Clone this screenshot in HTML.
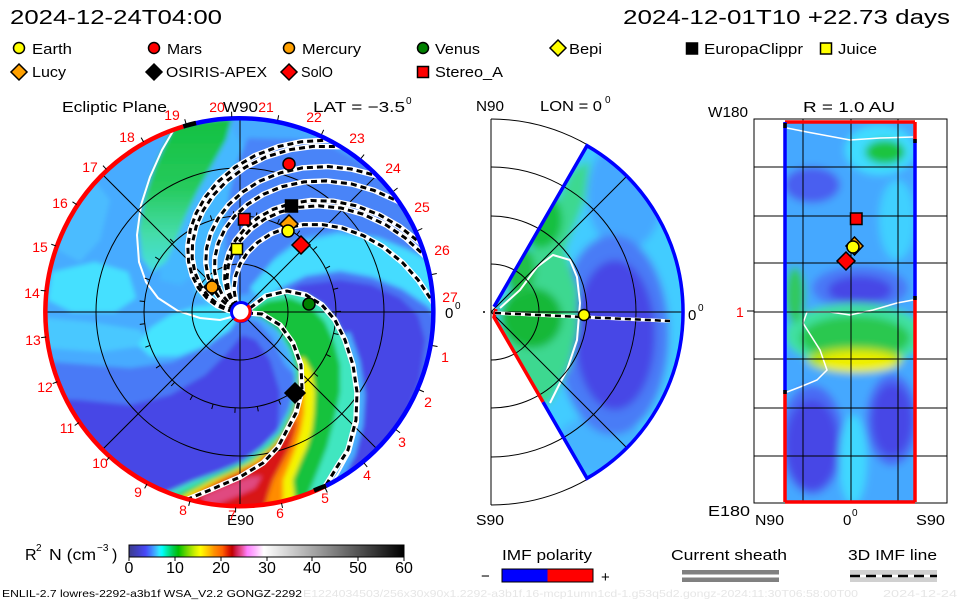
<!DOCTYPE html>
<html><head><meta charset="utf-8"><style>html,body{margin:0;padding:0;background:#fff;overflow:hidden}svg{display:block}</style></head>
<body>
<svg xmlns="http://www.w3.org/2000/svg" xmlns:xlink="http://www.w3.org/1999/xlink" width="960" height="600" viewBox="0 0 960 600" font-family="'Liberation Sans', sans-serif">
<defs>
<clipPath id="cd"><circle cx="240" cy="312" r="193"/></clipPath>
<clipPath id="cw"><path d="M494,306.8 L587,145.7 A192,192 0 0 1 587,478.3 L494,317.2 A6,6 0 0 0 494,306.8 Z"/></clipPath>
<clipPath id="cr"><rect x="785" y="122" width="130" height="380"/></clipPath>
<filter id="bl" x="-10%" y="-10%" width="120%" height="120%"><feGaussianBlur stdDeviation="2.5"/></filter>
<filter id="bl2" x="-10%" y="-10%" width="120%" height="120%"><feGaussianBlur stdDeviation="4"/></filter>
<path id="fl" d="M237.7,306.4 L236.2,300.6 L235.2,288.5 L237.4,276.1 L242.5,264.1 L250.6,253 L261.5,243.3 L275,235.6 L290.6,230.4 L307.9,228.1 L326.6,229 L346,233.3 L367,242.1 L386,254.2 L405.1,271.4 L419.6,289.4 L433,312 L443.4,337.6"/>
<linearGradient id="gg" x1="0" y1="0" x2="0" y2="1">
<stop offset="0" stop-color="#12c040"/><stop offset="0.45" stop-color="#26ca5c"/><stop offset="0.75" stop-color="#44dca8"/><stop offset="1" stop-color="#46e0e0"/>
</linearGradient>
<linearGradient id="cb" x1="0" y1="0" x2="1" y2="0">
<stop offset="0" stop-color="#3c3c8c"/><stop offset="0.03" stop-color="#4040c0"/><stop offset="0.06" stop-color="#4848f8"/><stop offset="0.08" stop-color="#4080ff"/><stop offset="0.095" stop-color="#40b0ff"/><stop offset="0.11" stop-color="#30e8ff"/><stop offset="0.12" stop-color="#00ffff"/><stop offset="0.14" stop-color="#00e8a0"/><stop offset="0.16" stop-color="#00cc50"/><stop offset="0.18" stop-color="#00c000"/><stop offset="0.21" stop-color="#70d800"/><stop offset="0.24" stop-color="#d0f000"/><stop offset="0.26" stop-color="#ffff00"/><stop offset="0.29" stop-color="#ffc000"/><stop offset="0.31" stop-color="#ff9000"/><stop offset="0.34" stop-color="#ff6000"/><stop offset="0.36" stop-color="#e02000"/><stop offset="0.375" stop-color="#c00000"/><stop offset="0.39" stop-color="#d02050"/><stop offset="0.41" stop-color="#e85098"/><stop offset="0.43" stop-color="#ff80ff"/><stop offset="0.46" stop-color="#ffb8ff"/><stop offset="0.49" stop-color="#ffffff"/><stop offset="1" stop-color="#000000"/>
</linearGradient>
</defs>
<rect width="960" height="600" fill="#fff"/>

<!-- headers -->
<text x="10" y="24" font-size="20" textLength="212" lengthAdjust="spacingAndGlyphs">2024-12-24T04:00</text>
<text x="623" y="24" font-size="20" textLength="327" lengthAdjust="spacingAndGlyphs">2024-12-01T10 +22.73 days</text>

<!-- legend markers -->
<g stroke="#000" stroke-width="1.5">
<circle cx="19" cy="48" r="5.5" fill="#ffff00"/>
<circle cx="154" cy="48" r="5.5" fill="#ff0000"/>
<circle cx="289" cy="48" r="5.5" fill="#ffa000"/>
<circle cx="423" cy="48" r="5.5" fill="#008000"/>
<polygon points="558,40 566,48 558,56 550,48" fill="#ffff00"/>
<rect x="686.5" y="43" width="11" height="11" fill="#000"/>
<rect x="820.5" y="43" width="11" height="11" fill="#ffff00"/>
<polygon points="19,64 27,72 19,80 11,72" fill="#ffa000"/>
<polygon points="154,64 162,72 154,80 146,72" fill="#000"/>
<polygon points="289,64 297,72 289,80 281,72" fill="#ff0000"/>
<rect x="417.5" y="66.5" width="11" height="11" fill="#ff0000"/>
</g>
<g font-size="15">
<text x="32" y="54" textLength="40" lengthAdjust="spacingAndGlyphs">Earth</text>
<text x="167" y="54" textLength="35" lengthAdjust="spacingAndGlyphs">Mars</text>
<text x="302" y="54" textLength="59" lengthAdjust="spacingAndGlyphs">Mercury</text>
<text x="435" y="54" textLength="45" lengthAdjust="spacingAndGlyphs">Venus</text>
<text x="569" y="54" textLength="33" lengthAdjust="spacingAndGlyphs">Bepi</text>
<text x="704" y="54" textLength="99" lengthAdjust="spacingAndGlyphs">EuropaClippr</text>
<text x="838" y="54" textLength="39" lengthAdjust="spacingAndGlyphs">Juice</text>
<text x="32" y="77" textLength="34" lengthAdjust="spacingAndGlyphs">Lucy</text>
<text x="166" y="77" textLength="101" lengthAdjust="spacingAndGlyphs">OSIRIS-APEX</text>
<text x="301" y="77" textLength="32" lengthAdjust="spacingAndGlyphs">SolO</text>
<text x="435" y="77" textLength="68" lengthAdjust="spacingAndGlyphs">Stereo_A</text>
</g>

<!-- ============ MAIN ECLIPTIC PLOT ============ -->
<g clip-path="url(#cd)">
 <g filter="url(#bl)">
  <circle cx="240" cy="312" r="200" fill="#47abff"/>
  <polygon fill="#4cbcff" points="60,190 90,175 110,200 100,240 80,262 58,250"/>
  <polygon fill="#44e0ff" points="52,272 95,262 128,272 136,298 115,312 72,312 48,300"/>
  <polygon fill="#44ccff" points="195,272 222,268 235,290 232,306 210,305 195,292"/>
  <polygon fill="#44b8ff" points="228,122 246,150 240,185 226,220 212,250 198,272 180,285 160,280 160,255 172,225 185,195 198,165 210,135"/>
  <polygon fill="url(#gg)" points="176,123 232,118 226,140 212,165 198,190 186,215 176,240 166,262 152,272 142,258 139,228 145,196 155,166 166,142"/>
  <polygon fill="#4a84f8" points="248,138 320,140 372,168 408,205 428,240 436,262 410,250 380,238 340,230 300,238 276,256 260,278 248,294 238,296 232,282 226,255 225,225 230,190 238,160"/>
  <polygon fill="#44dcff" points="250,288 272,262 298,243 338,234 378,238 408,250 440,266 446,325 428,305 402,288 372,276 340,270 306,275 282,287 262,300"/>
  <polygon fill="#4a7af6" points="30,360 80,364 130,368 172,362 208,346 230,326 242,318 258,322 272,338 285,365 300,380 300,430 280,455 240,478 190,498 150,525 20,525"/>
  <polygon fill="#4646e6" points="30,398 80,400 130,405 170,395 205,375 228,352 242,335 256,340 270,360 280,392 278,428 258,452 222,472 180,490 140,512 20,525"/>
  <polygon fill="#48c8ff" points="45,318 90,322 140,330 150,345 100,352 45,348"/>
  <polygon fill="#44e4ff" points="240,314 230,330 205,346 178,356 150,356 138,345 150,328 172,314 198,306 222,305"/>
  <polygon fill="#4a74f4" points="262,300 282,288 306,277 340,272 372,278 402,290 428,308 445,330 440,400 420,450 380,490 330,500 345,470 356,440 359,400 355,365 345,338 330,315 310,300 285,296"/>
  <polygon fill="#4646e6" points="275,300 300,285 340,280 372,285 400,298 418,315 425,340 420,380 405,420 385,450 360,475 348,475 356,440 359,400 355,365 345,338 330,315 310,300"/>
  <path d="M347,333 L357,362 L362,395 L360,425 L352,455 L340,476 L326,497" fill="none" stroke="#48b0ff" stroke-width="6"/>
  <!-- CME -->
  <polygon fill="#40e6c0" points="246,312 262,318 277,330 289,350 295,370 295,390 289,410 278,432 262,447 242,462 218,472 193,481 168,492 140,506 120,520 305,525 318,497 326,485 337,467 348,450 356,420 357,392 353,365 345,340 335,320 322,305 306,295 287,291 266,296 250,306"/>
  <polygon fill="#18c23c" points="248,313 263,318 280,331 292,351 298,371 298,391 292,411 282,432 268,447 248,462 225,472 207,480 182,492 158,505 140,520 302,515 310,490 318,470 327,447 334,420 340,392 340,365 334,342 325,322 310,306 290,298 268,301 252,309"/>
  <polygon fill="#f4f400" points="299,358 301,372 301,392 295,411 285,432 272,447 252,462 232,472 213,480 190,492 168,505 150,518 295,518 295,500 293,480 300,463 307,447 312,430 314,413 315,392 312,372 304,358"/>
  <polygon fill="#ff8c00" points="300,378 300,392 295,411 286,432 274,447 256,462 236,472 218,480 196,492 175,505 160,518 282,518 283,495 283,480 290,463 296,447 301,430 304,413 304,392 302,378"/>
  <polygon fill="#d81818" points="293,420 287,432 276,447 260,462 240,472 223,480 200,492 182,505 170,518 262,518 268,495 273,480 282,463 290,447 295,430 297,420"/>
  <polygon fill="#e04880" points="200,497 225,486 250,477 262,476 255,488 235,497 210,507"/>
 </g>
 <!-- white contour lines -->
 <path d="M176,126 L162,150 L150,177 L141,205 L137,235 L139,262 L146,282 L158,298 L178,311 L200,318 L220,320 L235,316" fill="none" stroke="#fff" stroke-width="2"/>
 <path d="M343,333 L353,360 L359,392 L358,422 L350,452 L338,474 L322,497" fill="none" stroke="#fff" stroke-width="2"/>
 <!-- grid -->
 <g fill="none" stroke="#000" stroke-width="1">
  <circle cx="240" cy="312" r="48"/><circle cx="240" cy="312" r="96"/><circle cx="240" cy="312" r="144"/>
  <line x1="40" y1="312" x2="440" y2="312"/><line x1="240" y1="110" x2="240" y2="512"/>
  <line x1="103.5" y1="175.5" x2="376.5" y2="448.5"/><line x1="103.5" y1="448.5" x2="376.5" y2="175.5"/>
  <circle cx="240" cy="312" r="98.5" stroke-width="5" stroke-dasharray="1 21.92" stroke-dashoffset="-21.66"/>
 </g>
 <!-- field lines -->
 <g fill="none" stroke="#fff" stroke-width="5.5">
  <use xlink:href="#fl" transform="rotate(-63 240 312)"/><use xlink:href="#fl" transform="rotate(-59 240 312)"/>
  <use xlink:href="#fl" transform="rotate(-45 240 312)"/><use xlink:href="#fl" transform="rotate(-35 240 312)"/>
  <use xlink:href="#fl" transform="rotate(-21 240 312)"/><use xlink:href="#fl" transform="rotate(-17 240 312)"/>
  <use xlink:href="#fl" transform="rotate(-3 240 312)"/>
  <path d="M247,313 L262,314 L280,325 L293,343 L301,365 L302,390 L296,413 L278,447 L263,463 L240,477 L210,490 L193,497 L172,506"/>
  <path d="M250,308 L266,296 L287,291 L306,295 L322,305 L335,320 L345,340 L353,365 L357,392 L356,420 L348,450 L337,467 L326,485 L318,497 L310,510"/>
 </g>
 <g fill="none" stroke="#000" stroke-width="3" stroke-dasharray="6 4">
  <use xlink:href="#fl" transform="rotate(-63 240 312)"/><use xlink:href="#fl" transform="rotate(-59 240 312)"/>
  <use xlink:href="#fl" transform="rotate(-45 240 312)"/><use xlink:href="#fl" transform="rotate(-35 240 312)"/>
  <use xlink:href="#fl" transform="rotate(-21 240 312)"/><use xlink:href="#fl" transform="rotate(-17 240 312)"/>
  <use xlink:href="#fl" transform="rotate(-3 240 312)"/>
  <path d="M247,313 L262,314 L280,325 L293,343 L301,365 L302,390 L296,413 L278,447 L263,463 L240,477 L210,490 L193,497 L172,506"/>
  <path d="M250,308 L266,296 L287,291 L306,295 L322,305 L335,320 L345,340 L353,365 L357,392 L356,420 L348,450 L337,467 L326,485 L318,497 L310,510"/>
 </g>
</g>
<!-- outer border -->
<path d="M183.3,126.5 A194,194 0 1 0 326,485.8" fill="none" stroke="#ff0000" stroke-width="4.5"/>
<path d="M326,485.8 A194,194 0 0 0 183.3,126.5" fill="none" stroke="#0000ff" stroke-width="4.5"/>
<path d="M183.3,126.5 A194,194 0 0 1 196,123" fill="none" stroke="#000" stroke-width="4.5"/>
<path d="M326,485.8 A194,194 0 0 0 314,490.5" fill="none" stroke="#000" stroke-width="4.5"/>
<circle cx="240" cy="312" r="198" fill="none" stroke="#000" stroke-width="5" stroke-dasharray="1 45.84" stroke-dashoffset="-33.8"/>
<!-- sun -->
<circle cx="241" cy="312" r="9.5" fill="#fff" stroke="#0000ff" stroke-width="3"/>
<path d="M247.7,305.3 A9.5,9.5 0 0 1 234.3,318.7" fill="none" stroke="#ff0000" stroke-width="3"/>
<!-- markers main -->
<g stroke="#000" stroke-width="1.5">
 <circle cx="289" cy="164" r="6" fill="#ff0000"/>
 <rect x="285.5" y="200" width="12" height="12" fill="#000"/>
 <rect x="238.5" y="213.5" width="11.5" height="11.5" fill="#ff0000"/>
 <polygon points="289,215 298,224 289,233 280,224" fill="#ffa000"/>
 <circle cx="288" cy="231" r="6" fill="#ffff00"/>
 <polygon points="301,236 310,245 301,254 292,245" fill="#ff0000"/>
 <rect x="231.5" y="243.5" width="11" height="11" fill="#ffff00"/>
 <polygon points="212,279 220,287 212,295 204,287" fill="none"/>
 <circle cx="212" cy="287" r="6" fill="#ffa000"/>
 <circle cx="309" cy="304" r="6" fill="#008000"/>
 <polygon points="295,383 305,393 295,403 285,393" fill="#000"/>
</g>
<!-- main labels -->
<g font-size="15">
 <text x="62" y="112" textLength="105" lengthAdjust="spacingAndGlyphs">Ecliptic Plane</text>
 <text x="223" y="112" textLength="35" lengthAdjust="spacingAndGlyphs">W90</text>
 <text x="313" y="112" textLength="92" lengthAdjust="spacingAndGlyphs">LAT = −3.5</text>
 <text x="406" y="104" font-size="10">0</text>
 <text x="445" y="318">0</text><text x="455" y="309" font-size="10">0</text>
 <text x="227" y="525" textLength="27" lengthAdjust="spacingAndGlyphs">E90</text>
</g>
<g font-size="14" fill="#ff0000" text-anchor="middle">
 <text x="172" y="120">19</text><text x="217" y="112">20</text><text x="266" y="112">21</text><text x="314" y="122">22</text>
 <text x="357" y="143">23</text><text x="393" y="173">24</text><text x="422" y="212">25</text><text x="442" y="255">26</text>
 <text x="450" y="302">27</text><text x="445" y="362">1</text><text x="428" y="407">2</text><text x="402" y="447">3</text>
 <text x="367" y="480">4</text><text x="325" y="503">5</text><text x="280" y="518">6</text><text x="232" y="520">7</text>
 <text x="183" y="515">8</text><text x="138" y="497">9</text><text x="100" y="468">10</text><text x="67" y="433">11</text>
 <text x="45" y="392">12</text><text x="33" y="345">13</text><text x="32" y="298">14</text><text x="40" y="252">15</text>
 <text x="60" y="208">16</text><text x="90" y="172">17</text><text x="127" y="142">18</text>
</g>

<!-- ============ MERIDIONAL PLOT ============ -->
<g clip-path="url(#cw)">
 <g filter="url(#bl2)">
  <rect x="480" y="130" width="210" height="360" fill="#42ccff"/>
  <ellipse cx="625" cy="195" rx="38" ry="55" fill="#44a8ff"/>
  <ellipse cx="600" cy="445" rx="45" ry="30" fill="#44b4ff"/>
  <ellipse cx="613" cy="335" rx="56" ry="100" fill="#4a7cf6"/>
  <ellipse cx="615" cy="335" rx="40" ry="75" fill="#4646e6"/>
  <polygon fill="#3cd890" points="498,310 520,270 545,225 572,170 590,160 585,200 565,250 578,290 578,330 570,365 552,400 535,410 515,370 500,330"/>
  <ellipse cx="540" cy="220" rx="22" ry="28" fill="#18c040"/>
  <ellipse cx="532" cy="318" rx="30" ry="30" fill="#14b838"/>
  <ellipse cx="520" cy="270" rx="15" ry="25" fill="#20c048"/>
 </g>
 <path d="M500,308 L520,290 L537,267 L553,255 L570,260 L577,277 L580,303 L577,340 L567,370 L560,383 L550,403" fill="none" stroke="#fff" stroke-width="2"/>
</g>
<g fill="none" stroke="#000" stroke-width="1">
 <line x1="491" y1="119" x2="491" y2="505"/>
 <line x1="491" y1="312" x2="684" y2="312"/>
 <line x1="491" y1="312" x2="627.5" y2="175.5"/><line x1="491" y1="312" x2="627.5" y2="448.5"/>
 <path d="M491,264 A48,48 0 0 1 491,360"/><path d="M491,216 A96,96 0 0 1 491,408"/>
 <path d="M491,167 A145,145 0 0 1 491,457"/><path d="M491,119 A193,193 0 0 1 491,505"/>
</g>
<path d="M494,306.8 L587,145.7 A192,192 0 0 1 587,478.3 L543,402" fill="none" stroke="#0000ff" stroke-width="3.5"/>
<path d="M543,402 L494,317.2 L496,309" fill="none" stroke="#ff0000" stroke-width="3.5"/>
<path d="M495,313 L670,321" fill="none" stroke="#fff" stroke-width="3.5"/>
<path d="M495,313 L670,321" fill="none" stroke="#000" stroke-width="2.5" stroke-dasharray="6 4"/>
<circle cx="484" cy="312" r="1" fill="#000"/>
<circle cx="584" cy="315" r="5.5" fill="#ffff00" stroke="#000" stroke-width="1.5"/>
<g font-size="15">
 <text x="476" y="111" textLength="28" lengthAdjust="spacingAndGlyphs">N90</text>
 <text x="540" y="111" textLength="62" lengthAdjust="spacingAndGlyphs">LON = 0</text>
 <text x="605" y="103" font-size="10">0</text>
 <text x="688" y="320">0</text><text x="698" y="311" font-size="10">0</text>
 <text x="476" y="525" textLength="28" lengthAdjust="spacingAndGlyphs">S90</text>
</g>

<!-- ============ R = 1 AU PLOT ============ -->
<g clip-path="url(#cr)">
 <g filter="url(#bl2)">
  <rect x="780" y="115" width="140" height="395" fill="#44a8ff"/>
  <ellipse cx="880" cy="150" rx="35" ry="25" fill="#40dcff"/>
  <ellipse cx="897" cy="220" rx="18" ry="40" fill="#40d0ff"/>
  <ellipse cx="885" cy="152" rx="20" ry="12" fill="#1cc440"/>
  <ellipse cx="812" cy="185" rx="28" ry="18" fill="#4a5ef0"/>
  <ellipse cx="860" cy="288" rx="48" ry="22" fill="#4a78f6"/>
  <ellipse cx="860" cy="290" rx="32" ry="14" fill="#4646e6"/>
  <ellipse cx="855" cy="335" rx="70" ry="32" fill="#40e0a0"/>
  <ellipse cx="795" cy="295" rx="10" ry="28" fill="#30c860"/>
  <ellipse cx="855" cy="338" rx="55" ry="22" fill="#2cc850"/>
  <ellipse cx="855" cy="360" rx="48" ry="13" fill="#b0e000"/>
  <ellipse cx="858" cy="362" rx="38" ry="9" fill="#f0f000"/>
  <ellipse cx="812" cy="440" rx="32" ry="55" fill="#4a6cf4"/>
  <ellipse cx="812" cy="445" rx="26" ry="45" fill="#4646e6"/>
  <ellipse cx="892" cy="420" rx="26" ry="46" fill="#4a6cf4"/>
  <ellipse cx="892" cy="420" rx="20" ry="36" fill="#4646e6"/>
  <ellipse cx="853" cy="460" rx="14" ry="45" fill="#40d8ff"/>
 </g>
 <path d="M787,128 L807,132 L850,140 L880,138 L913,137" fill="none" stroke="#fff" stroke-width="1.5"/>
 <path d="M913,300 L897,303 L873,310 L850,315 L830,312 L807,312 L803,323 L820,350 L827,370 L817,380 L800,387 L787,392" fill="none" stroke="#fff" stroke-width="1.5"/>
</g>
<g fill="none" stroke="#000" stroke-width="1">
 <rect x="754" y="119" width="193" height="384"/>
 <line x1="803" y1="119" x2="803" y2="503"/><line x1="851" y1="119" x2="851" y2="503"/><line x1="898" y1="119" x2="898" y2="503"/>
 <line x1="754" y1="167" x2="947" y2="167"/><line x1="754" y1="216" x2="947" y2="216"/><line x1="754" y1="263" x2="947" y2="263"/>
 <line x1="754" y1="312" x2="947" y2="312"/><line x1="754" y1="359" x2="947" y2="359"/><line x1="754" y1="408" x2="947" y2="408"/>
 <line x1="754" y1="456" x2="947" y2="456"/>
 <line x1="747" y1="311" x2="754" y2="311"/>
</g>
<g fill="none" stroke-width="3.5">
 <path d="M785,122 L915,122" stroke="#ff0000"/>
 <path d="M785,502 L915,502" stroke="#ff0000"/>
 <path d="M785,122 L785,392" stroke="#0000ff"/>
 <path d="M785,392 L785,502" stroke="#ff0000"/>
 <path d="M915,122 L915,140" stroke="#ff0000"/>
 <path d="M915,140 L915,298" stroke="#0000ff"/>
 <path d="M915,298 L915,502" stroke="#ff0000"/>
 <path d="M785,123 L785,128" stroke="#000"/><path d="M785,390 L785,394" stroke="#000"/>
 <path d="M915,139 L915,143" stroke="#000"/><path d="M915,296 L915,300" stroke="#000"/>
</g>
<g stroke="#000" stroke-width="1.5">
 <rect x="850.5" y="213" width="11.5" height="11.5" fill="#ff0000"/>
 <polygon points="854.5,237 863,246 854.5,255 846,246" fill="#ffa000"/>
 <circle cx="853" cy="247" r="6" fill="#ffff00"/>
 <polygon points="846,252 855,261 846,270 837,261" fill="#ff0000"/>
</g>
<g font-size="15">
 <text x="803" y="112" textLength="92" lengthAdjust="spacingAndGlyphs">R = 1.0 AU</text>
 <text x="708" y="117" textLength="40" lengthAdjust="spacingAndGlyphs">W180</text>
 <text x="708" y="516" textLength="42" lengthAdjust="spacingAndGlyphs">E180</text>
 <text x="736" y="317" fill="#ff0000" font-size="14">1</text>
 <text x="755" y="525" textLength="29" lengthAdjust="spacingAndGlyphs">N90</text>
 <text x="843" y="525">0</text><text x="852" y="516" font-size="10">0</text>
 <text x="916" y="525" textLength="29" lengthAdjust="spacingAndGlyphs">S90</text>
</g>

<!-- ============ BOTTOM ============ -->
<g font-size="16">
 <text x="25" y="560">R</text><text x="36" y="551" font-size="10">2</text>
 <text x="49" y="560" textLength="47" lengthAdjust="spacingAndGlyphs">N (cm</text>
 <text x="97" y="551" font-size="10">−3</text>
 <text x="112" y="560">)</text>
</g>
<rect x="129" y="545" width="275" height="12" fill="url(#cb)" stroke="#000" stroke-width="1"/>
<g stroke="#000" stroke-width="1">
 <line x1="129" y1="557" x2="129" y2="561"/><line x1="175" y1="557" x2="175" y2="561"/><line x1="221" y1="557" x2="221" y2="561"/>
 <line x1="267" y1="557" x2="267" y2="561"/><line x1="312" y1="557" x2="312" y2="561"/><line x1="358" y1="557" x2="358" y2="561"/>
 <line x1="404" y1="557" x2="404" y2="561"/>
</g>
<g font-size="16" text-anchor="middle">
 <text x="129" y="573">0</text><text x="175" y="573">10</text><text x="221" y="573">20</text><text x="267" y="573">30</text>
 <text x="312" y="573">40</text><text x="358" y="573">50</text><text x="404" y="573">60</text>
</g>
<text x="2" y="597" font-size="10.5" textLength="300" lengthAdjust="spacingAndGlyphs">ENLIL-2.7 lowres-2292-a3b1f WSA_V2.2 GONGZ-2292</text>
<text x="303" y="597" font-size="10.5" fill="#e6e6e6" textLength="555" lengthAdjust="spacingAndGlyphs">E1224034503/256x30x90x1.2292-a3b1f.16-mcp1umn1cd-1.g53q5d2.gongz-2024:11:30T06:58:00T00</text>
<text x="883" y="597" font-size="10.5" fill="#e6e6e6" textLength="74" lengthAdjust="spacingAndGlyphs">2024-12-24</text>

<g font-size="15">
 <text x="502" y="560" textLength="90" lengthAdjust="spacingAndGlyphs">IMF polarity</text>
 <text x="671" y="560" textLength="116" lengthAdjust="spacingAndGlyphs">Current sheath</text>
 <text x="848" y="560" textLength="89" lengthAdjust="spacingAndGlyphs">3D IMF line</text>
 <text x="481" y="581">−</text>
 <text x="601" y="582">+</text>
</g>
<rect x="502" y="569" width="45.5" height="13" fill="#0000ff"/>
<rect x="547.5" y="569" width="45.5" height="13" fill="#ff0000"/>
<rect x="502" y="569" width="91" height="13" fill="none" stroke="#000" stroke-width="1"/>
<rect x="682" y="570" width="97" height="4.5" fill="#808080"/>
<rect x="682" y="577.5" width="97" height="4.5" fill="#808080"/>
<rect x="850" y="570" width="87" height="12" fill="#d0d0d0"/>
<line x1="850" y1="576" x2="937" y2="576" stroke="#fff" stroke-width="2.5"/>
<line x1="850" y1="576" x2="937" y2="576" stroke="#000" stroke-width="2.5" stroke-dasharray="10 6"/>
</svg>
</body></html>
